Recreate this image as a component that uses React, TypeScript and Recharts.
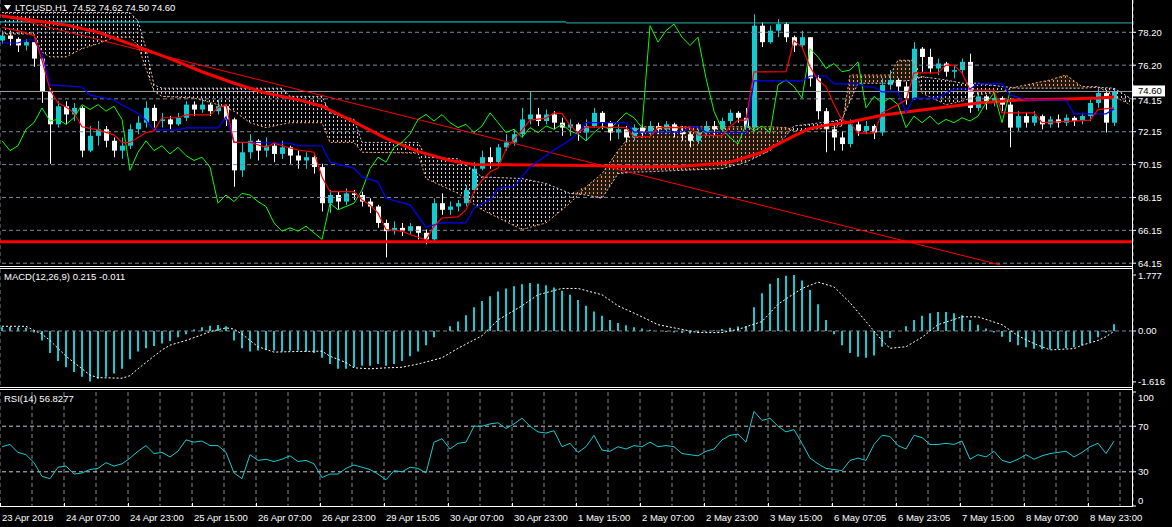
import React from "react";
import {
  ComposedChart,
  Bar,
  Line,
  Area,
  XAxis,
  YAxis,
  CartesianGrid,
  ReferenceLine,
} from "recharts";

// LTCUSD H1, each row here is a two-hour slot (two MT4 bars)
const firstOpen = 77.7;
const closes = [
  78.0, 77.8, 77.4, 77.6, 76.6, 74.6, 72.6, 73.7, 73.2, 73.6,
  71.0, 71.9, 72.3, 71.6, 71.0, 71.3, 72.3, 72.7, 73.6, 72.8,
  72.9, 72.6, 73.0, 73.8, 73.5, 73.8, 73.4, 73.7, 72.9, 69.8,
  70.9, 71.6, 71.0, 71.3, 70.8, 71.2, 70.7, 70.4, 70.6, 70.0,
  67.8, 68.3, 67.9, 68.4, 68.3, 67.9, 67.6, 66.6, 66.1, 66.3,
  66.1, 66.4, 66.0, 65.6, 67.8, 67.4, 67.6, 67.8, 68.6, 69.9,
  70.6, 70.3, 71.2, 71.5, 72.0, 72.9, 73.2, 72.8, 73.2, 72.7,
  72.4, 72.6, 72.1, 72.5, 73.3, 72.7, 72.1, 72.3, 71.8, 72.4,
  72.1, 72.5, 72.3, 72.6, 72.2, 72.0, 71.6, 72.1, 72.5, 72.3,
  72.8, 73.3, 73.0, 72.4, 78.6, 77.6, 78.3, 78.7, 77.9, 77.4,
  77.9, 75.4, 73.4, 72.3, 71.8, 71.4, 72.6, 72.2, 72.5, 72.1,
  75.0, 75.3, 74.9, 74.2, 77.2, 76.7, 76.0, 76.3, 75.8, 75.9,
  76.4, 73.6, 74.3, 73.9, 74.2, 73.8, 72.4, 73.1, 72.7, 73.1,
  72.6, 72.9, 72.7, 73.0, 72.8, 73.1, 73.9, 74.5, 72.7, 74.6,
];
const highs = [
  78.3, 78.3, 77.9, 77.8, 77.6, 76.6, 74.8, 74.0, 74.0, 73.9,
  73.7, 72.5, 72.8, 72.5, 71.8, 71.8, 72.6, 73.1, 74.0, 73.8,
  73.3, 73.1, 73.3, 74.0, 74.0, 74.2, 73.9, 74.1, 73.8, 73.0,
  71.5, 72.0, 71.7, 71.8, 71.5, 71.6, 71.3, 71.0, 70.9, 70.7,
  70.2, 68.6, 68.5, 68.7, 68.6, 68.5, 68.1, 67.7, 66.8, 66.7,
  66.6, 66.6, 66.4, 66.2, 68.1, 68.4, 67.9, 68.0, 68.9, 70.3,
  71.0, 71.2, 71.4, 72.0, 72.3, 73.6, 74.6, 73.6, 73.5, 73.4,
  73.0, 72.9, 72.7, 72.9, 73.6, 73.4, 72.8, 72.6, 72.5, 72.6,
  72.6, 72.8, 72.7, 72.8, 72.7, 72.5, 72.2, 72.3, 72.8, 72.8,
  73.0, 73.5, 73.4, 73.6, 79.3, 78.8, 78.6, 79.0, 78.8, 78.0,
  78.3, 77.9, 75.6, 73.6, 72.6, 72.2, 72.9, 72.8, 72.8, 72.6,
  75.4, 75.9, 75.4, 75.2, 77.6, 77.3, 77.2, 76.6, 76.4, 76.2,
  76.6, 76.9, 74.6, 74.4, 74.5, 74.3, 74.2, 73.4, 73.3, 73.4,
  73.2, 73.1, 73.2, 73.2, 73.1, 73.3, 74.2, 74.8, 74.7, 74.8,
];
const lows = [
  77.5, 77.4, 77.0, 77.1, 76.1, 73.9, 70.2, 72.4, 72.6, 72.8,
  70.6, 70.9, 71.3, 71.2, 70.6, 70.5, 71.1, 72.0, 72.4, 72.4,
  72.4, 72.3, 72.5, 72.8, 73.1, 73.3, 73.1, 73.2, 72.5, 68.8,
  69.4, 70.5, 70.4, 70.6, 70.3, 70.5, 70.2, 69.9, 69.9, 69.6,
  67.3, 67.2, 67.4, 67.7, 68.0, 67.6, 67.2, 66.3, 64.5, 65.9,
  65.8, 65.9, 65.6, 65.3, 65.5, 67.1, 67.1, 67.3, 67.6, 68.4,
  69.8, 69.9, 70.1, 71.0, 71.3, 71.8, 72.6, 72.5, 72.6, 72.3,
  71.9, 71.9, 71.6, 71.6, 72.4, 72.3, 71.6, 71.7, 71.5, 71.6,
  71.8, 71.9, 72.0, 72.0, 71.8, 71.6, 71.2, 71.4, 71.9, 71.9,
  72.1, 72.6, 72.7, 72.2, 72.3, 77.3, 77.5, 77.9, 77.6, 77.0,
  77.2, 74.9, 72.9, 70.9, 71.0, 71.0, 71.2, 71.9, 72.0, 71.7,
  71.9, 74.7, 74.5, 73.8, 74.1, 75.8, 75.7, 75.6, 75.5, 75.4,
  75.6, 73.3, 73.4, 73.5, 73.7, 73.4, 71.2, 72.2, 72.4, 72.5,
  72.3, 72.4, 72.4, 72.5, 72.5, 72.6, 72.8, 73.6, 72.1, 72.5,
];

// slow moving average (thick red), [slot, value]
const maPts: [number, number][] = [
  [0, 79.19], [8, 78.65], [12, 78.2], [16, 77.5], [21, 76.6], [25, 75.8],
  [29, 75.1], [33, 74.5], [37, 74.1], [40, 73.7], [44, 72.75], [48, 71.75],
  [52, 70.95], [56, 70.4], [59, 70.15], [73, 70.1], [80, 70.0], [85, 70.05],
  [89, 70.2], [91, 70.3], [93, 70.6], [95, 70.9], [97, 71.4], [99, 71.9],
  [101, 72.35], [103, 72.55], [106, 72.74], [110, 73.15], [113, 73.35],
  [118, 73.65], [122, 73.9], [127, 74.08], [133, 74.14], [137, 74.2], [139, 74.26],
];

// Ichimoku tenkan-sen (red) and kijun-sen (blue)
const tenkanPts: [number, number][] = [
  [0, 78.5], [2, 78.3], [4, 78.0], [5, 76.5], [6, 74.7], [7, 73.9], [8, 73.65],
  [9, 73.3], [10, 72.45], [12, 72.26], [14, 71.96], [15, 71.5], [16, 71.5],
  [18, 72.1], [19, 72.2], [20, 73.0], [22, 73.0], [23, 73.17], [26, 73.17],
  [27, 73.6], [28, 73.8], [29, 71.5], [31, 71.5], [33, 71.2], [34, 71.45],
  [36, 71.16], [37, 71.04], [39, 70.9], [40, 69.4], [41, 68.5], [44, 68.5],
  [45, 68.0], [46, 67.7], [47, 67.2], [48, 66.2], [50, 66.1], [51, 65.9],
  [53, 65.57], [54, 66.4], [55, 66.9], [57, 66.97], [58, 67.39], [59, 68.5],
  [60, 69.2], [61, 69.7], [62, 69.94], [63, 71.1], [65, 72.25], [66, 72.86],
  [68, 72.98], [69, 73.3], [70, 73.25], [71, 72.56], [72, 72.06], [73, 72.45],
  [78, 72.4], [79, 71.85], [81, 71.85], [82, 72.4], [86, 72.4], [87, 71.95],
  [90, 71.9], [91, 72.45], [92, 72.86], [93, 72.86], [94, 75.79], [98, 75.8],
  [99, 77.7], [100, 77.3], [101, 76.1], [102, 75.3], [103, 74.9], [104, 73.8],
  [105, 72.86], [106, 72.7], [107, 72.06], [109, 72.06], [110, 73.3], [112, 73.8],
  [113, 74.08], [114, 75.73], [117, 75.73], [118, 76.2], [119, 76.2], [120, 75.73],
  [121, 74.69], [124, 74.69], [125, 73.3], [129, 73.3], [130, 72.7], [136, 72.86],
  [137, 73.5], [139, 73.6],
];
const kijunPts: [number, number][] = [
  [0, 77.55], [2, 77.55], [3, 77.73], [4, 77.73], [5, 76.9], [6, 75.0], [10, 74.87],
  [11, 74.38], [14, 74.08], [15, 73.77], [17, 73.28], [18, 72.86], [19, 72.26],
  [22, 72.26], [23, 72.38], [27, 72.38], [28, 73.05], [29, 71.52], [36, 71.45],
  [37, 71.3], [40, 71.28], [41, 70.3], [44, 69.94], [45, 69.4], [47, 69.1],
  [48, 68.1], [51, 67.7], [53, 66.35], [55, 66.6], [58, 66.6], [59, 67.5],
  [61, 68.0], [62, 68.7], [64, 68.8], [65, 69.4], [66, 70.0], [69, 71.04],
  [71, 71.65], [72, 72.06], [73, 72.7], [78, 72.7], [79, 72.13], [85, 72.13],
  [86, 72.45], [87, 72.45], [88, 72.13], [93, 72.1], [94, 75.24], [100, 75.24],
  [101, 75.54], [103, 75.54], [104, 75.06], [107, 75.06], [108, 74.87], [109, 74.87],
  [110, 74.57], [112, 74.57], [113, 73.3], [114, 74.2], [117, 74.2], [118, 74.5],
  [119, 74.75], [121, 74.75], [122, 75.06], [125, 75.06], [126, 74.38], [127, 74.26],
  [128, 74.08], [133, 74.08], [134, 73.24], [138, 73.24], [139, 73.54],
];

// senkou span A (sandy brown) and span B (thistle), cloud runs 2 slots past the last bar
const spanAPts: [number, number][] = [
  [0, 78.1], [4, 78.1], [5, 77.0], [6, 76.7], [8, 76.7], [10, 77.2], [12, 77.5],
  [14, 77.9], [16, 77.9], [17, 77.4], [18, 76.0], [19, 74.6], [20, 74.3], [24, 74.2],
  [27, 73.8], [29, 73.4], [31, 72.7], [33, 72.4], [35, 72.6], [36, 72.7], [40, 72.7],
  [41, 71.5], [44, 71.5], [45, 70.9], [52, 70.85], [53, 69.3], [57, 68.4], [60, 67.4],
  [65, 66.2], [68, 66.6], [71, 67.8], [73, 68.8], [75, 69.6], [77, 71.0], [79, 72.2],
  [80, 72.45], [90, 72.45], [93, 72.45], [96, 72.45], [98, 72.4], [99, 72.2],
  [104, 72.4], [105, 72.5], [106, 75.6], [107, 75.6], [111, 75.6], [112, 76.5],
  [114, 76.5], [115, 74.5], [118, 73.8], [120, 74.0], [122, 74.4], [125, 74.6],
  [127, 74.9], [131, 75.3], [133, 75.6], [135, 74.9], [137, 74.9], [139, 74.3], [141, 73.8],
];
const spanBPts: [number, number][] = [
  [0, 79.4], [4, 79.4], [5, 79.4], [6, 79.4], [8, 79.4], [10, 79.4], [12, 79.4],
  [14, 79.4], [16, 79.4], [17, 78.9], [18, 77.2], [19, 75.0], [20, 74.8], [24, 74.8],
  [27, 74.8], [29, 74.8], [31, 74.8], [33, 74.8], [35, 74.8], [36, 74.3], [40, 74.3],
  [41, 73.3], [44, 72.9], [45, 71.5], [52, 71.5], [53, 70.6], [57, 70.5], [60, 69.4],
  [65, 69.3], [68, 69.0], [71, 68.4], [73, 68.3], [75, 68.1], [77, 69.6], [79, 69.7],
  [80, 69.7], [90, 69.9], [93, 70.3], [96, 71.0], [98, 71.9], [99, 72.5],
  [104, 72.8], [105, 72.9], [106, 74.0], [107, 75.1], [111, 75.1], [112, 75.2],
  [114, 75.3], [115, 75.5], [118, 75.3], [120, 75.1], [122, 75.1], [125, 74.9],
  [127, 74.8], [131, 74.8], [133, 74.8], [135, 74.8], [137, 74.85], [139, 74.8], [141, 74.2],
];

// MACD(12,26,9): histogram per slot, signal as [slot, value]
const macdHist = [
  0.12, 0.13, 0.12, 0.10, -0.05, -0.30, -0.70, -0.95, -1.15, -1.30,
  -1.45, -1.60, -1.52, -1.45, -1.35, -1.20, -0.90, -0.65, -0.55, -0.48,
  -0.40, -0.32, -0.20, -0.10, 0.05, 0.12, 0.17, 0.19, 0.15, -0.30,
  -0.55, -0.65, -0.62, -0.60, -0.62, -0.65, -0.63, -0.62, -0.65, -0.70,
  -0.85, -1.05, -1.20, -1.20, -1.15, -1.10, -1.10, -1.05, -1.10, -1.05,
  -0.95, -0.80, -0.65, -0.45, -0.20, 0.00, 0.15, 0.30, 0.50, 0.75,
  0.95, 1.10, 1.25, 1.35, 1.42, 1.48, 1.52, 1.50, 1.45, 1.38,
  1.28, 1.15, 0.98, 0.80, 0.62, 0.48, 0.35, 0.25, 0.18, 0.12,
  0.08, 0.04, 0.00, -0.03, -0.05, -0.06, -0.08, -0.06, -0.02, 0.02,
  0.06, 0.10, 0.14, 0.15, 0.75, 1.20, 1.50, 1.68, 1.75, 1.777,
  1.60, 1.30, 0.85, 0.35, -0.10, -0.45, -0.70, -0.82, -0.85, -0.78,
  -0.50, -0.22, 0.00, 0.15, 0.35, 0.48, 0.56, 0.60, 0.60, 0.56,
  0.50, 0.35, 0.20, 0.08, -0.05, -0.18, -0.35, -0.45, -0.52, -0.56,
  -0.58, -0.58, -0.56, -0.55, -0.52, -0.45, -0.35, -0.20, -0.05, 0.215,
];
const signalPts: [number, number][] = [
  [0, 0.15], [3, 0.15], [4, 0.02], [5, -0.1], [6, -0.3], [7, -0.55], [8, -0.8],
  [10, -1.2], [11, -1.4], [12, -1.48], [15, -1.5], [16, -1.42], [17, -1.2], [18, -1.0],
  [20, -0.6], [21, -0.45], [23, -0.3], [25, -0.12], [26, -0.02], [28, 0.1], [29, 0.06],
  [30, -0.1], [31, -0.3], [32, -0.5], [34, -0.67], [37, -0.65], [40, -0.64], [41, -0.8],
  [43, -1.0], [44, -1.17], [46, -1.2], [48, -1.17], [50, -1.15], [52, -1.05], [55, -0.85],
  [57, -0.55], [60, -0.15], [62, 0.35], [65, 0.8], [67, 1.15], [70, 1.35], [72, 1.35],
  [75, 1.15], [77, 0.8], [80, 0.45], [82, 0.2], [85, 0.05], [87, -0.05], [90, -0.05],
  [92, 0.05], [95, 0.3], [97, 0.85], [100, 1.35], [102, 1.55], [104, 1.4], [105, 1.15],
  [106, 0.9], [108, 0.3], [110, -0.3], [111, -0.55], [113, -0.5], [115, -0.2], [117, 0.2],
  [120, 0.45], [122, 0.45], [125, 0.2], [127, -0.15], [129, -0.4], [131, -0.6],
  [134, -0.56], [135, -0.45], [137, -0.3], [138, -0.18], [139, -0.011],
];

// RSI(14)
const rsi = [
  52, 54, 47, 45, 38, 26, 24, 34, 35, 28,
  29, 32, 33, 38, 35, 37, 42, 48, 53, 46,
  47, 43, 48, 58, 56, 57, 53, 53, 47, 29,
  24, 45, 40, 41, 39, 41, 44, 39, 40, 37,
  25, 28, 28, 33, 36, 34, 32, 28, 23, 31,
  30, 34, 33, 29, 56, 59, 50, 55, 56, 70,
  70, 72, 73, 68, 72, 77, 70, 65, 64, 66,
  52, 55, 47, 52, 62, 49, 48, 52, 50, 53,
  52, 56, 52, 53, 52, 46, 45, 44, 48, 50,
  58, 62, 63, 56, 83, 75, 77, 70, 65, 67,
  55, 42, 37, 33, 32, 31, 40, 42, 40, 54,
  62, 61, 53, 50, 62, 60, 54, 54, 55, 54,
  57, 41, 45, 43, 48, 40, 38, 41, 45, 41,
  44, 46, 47, 48, 43, 47, 52, 55, 46, 56.83,
];

const priceTicks = [78.2, 76.2, 74.15, 72.15, 70.15, 68.15, 66.15, 64.15];
const priceNow = 74.6;
const resistLevel = 78.8;
const supportLevel = 65.46;
const trendStart = 79.25;
const trendEnd = 64.05;
const macdTicks = [1.777, 0, -1.616];
const rsiTicks = [100, 70, 30, 0];
const rsiLevels = [70, 30];
const timeLabels = [
  "23 Apr 2019", "24 Apr 07:00", "24 Apr 23:00", "25 Apr 15:00", "26 Apr 07:00",
  "26 Apr 23:00", "29 Apr 15:05", "30 Apr 07:00", "30 Apr 23:00", "1 May 15:00",
  "2 May 07:00", "2 May 23:00", "3 May 15:00", "6 May 07:05", "6 May 23:05",
  "7 May 15:00", "8 May 07:00", "8 May 23:00",
];

const SLOTS = 142;
const X0 = -0.25;
const X1 = 141.375;
const CHIKOU_SHIFT = 13;
const gridTicks = Array.from({ length: 36 }, (_, k) => 4 * k + X0);

const FONT = "'Liberation Sans', Arial, sans-serif";
const FS = 9.5;
const BULL = "#12ccd4";
const BEAR = "#ffffff";
const GRID = "#7b8797";
const SANDY = "#f4a460";
const THISTLE = "#dcc6dc";

const toMap = (pts: [number, number][]) => new Map(pts.map(([j, v]) => [j, v]));
const maMap = toMap(maPts);
const tenkanMap = toMap(tenkanPts);
const kijunMap = toMap(kijunPts);
const spanAMap = toMap(spanAPts);
const spanBMap = toMap(spanBPts);
const signalMap = toMap(signalPts);

const rows = Array.from({ length: SLOTS }, (_, j) => {
  const has = j < closes.length;
  const open = j === 0 ? firstOpen : closes[j - 1];
  const a = spanAMap.get(j);
  const b = spanBMap.get(j);
  const both = a != null && b != null;
  return {
    j,
    open: has ? open : null,
    close: has ? closes[j] : null,
    high: has ? highs[j] : null,
    low: has ? lows[j] : null,
    range: has ? [lows[j], highs[j]] : null,
    ma: maMap.get(j) ?? null,
    tenkan: tenkanMap.get(j) ?? null,
    kijun: kijunMap.get(j) ?? null,
    // chikou span = close drawn 26 hours back
    chikou: j + CHIKOU_SHIFT < closes.length ? closes[j + CHIKOU_SHIFT] : null,
    spanA: a ?? null,
    spanB: b ?? null,
    // hatch colour follows whichever span is on top
    cloudThistle: both ? [a, Math.max(a, b)] : null,
    cloudSandy: both ? [b, Math.max(a, b)] : null,
    hist: has ? macdHist[j] : null,
    signal: signalMap.get(j) ?? null,
    rsi: has ? rsi[j] : null,
  };
});

const Candle = (props: any) => {
  const { x, y, width, height, payload } = props;
  if (payload.open == null || height == null) return null;
  const top = Math.min(y, y + height);
  const h = Math.abs(height);
  const span = payload.high - payload.low || 1;
  const px = (v: number) => top + ((payload.high - v) / span) * h;
  const up = payload.close >= payload.open;
  const color = up ? BULL : BEAR;
  const cx = Math.round(x + width / 2) + 0.5;
  const yo = px(payload.open);
  const yc = px(payload.close);
  const bt = Math.min(yo, yc);
  const bh = Math.max(1, Math.abs(yc - yo));
  return (
    <g>
      <line x1={cx} x2={cx} y1={top} y2={top + h} stroke={color} strokeWidth={1} />
      <rect x={cx - 2.5} y={bt} width={5} height={bh} fill={color} />
    </g>
  );
};

const PriceTick = (props: any) => {
  const { x, y, payload } = props;
  const v = payload.value;
  if (v === priceNow) {
    return (
      <g>
        <rect x={x - 5} y={y - 6} width={32} height={11} fill="#fff" />
        <text x={x} y={y} dy={2.5} fill="#000" fontSize={FS} fontFamily={FONT}>
          {v.toFixed(2)}
        </text>
      </g>
    );
  }
  const nudge = v === 74.15 ? 2 : 0;
  return (
    <text x={x} y={y + nudge} dy={3.5} fill="#fff" fontSize={FS} fontFamily={FONT}>
      {v.toFixed(2)}
    </text>
  );
};

const MacdTick = (props: any) => {
  const { x, y, payload } = props;
  const v = payload.value;
  const label = v === 0 ? "0.00" : v.toFixed(3);
  return (
    <text x={x} y={y} dy={3.5} fill="#fff" fontSize={FS} fontFamily={FONT}>
      {label}
    </text>
  );
};

const RsiTick = (props: any) => {
  const { x, y, payload } = props;
  const v = payload.value;
  const shift = v === 100 ? 5 : v === 0 ? -6 : 0;
  return (
    <text x={x} y={y + shift} dy={3.5} fill="#fff" fontSize={FS} fontFamily={FONT}>
      {v}
    </text>
  );
};

const TimeTick = (props: any) => {
  const { x, y, payload } = props;
  const k = Math.round((payload.value - X0) / 4);
  if (k % 2 !== 0) return null;
  const label = timeLabels[k / 2];
  if (!label) return null;
  const tx = Math.round(x) + 0.5;
  return (
    <g>
      <line x1={tx} x2={tx} y1={y - 3} y2={y} stroke="#fff" />
      <text x={x + 2} y={y + 15} fill="#fff" fontSize={FS} fontFamily={FONT}>
        {label}
      </text>
    </g>
  );
};

const hiddenX = (
  <XAxis
    type="number"
    dataKey="j"
    domain={[X0, X1]}
    ticks={gridTicks}
    interval={0}
    height={0}
    tick={false}
    tickLine={false}
    axisLine={false}
  />
);

const grid = (
  <CartesianGrid horizontal={false} stroke={GRID} strokeDasharray="4 3" />
);

const lineProps = {
  dot: false,
  activeDot: false,
  isAnimationActive: false,
} as const;

const hLine = (style: React.CSSProperties) => (
  <div style={{ position: "absolute", background: "#fff", ...style }} />
);

const labelStyle: React.CSSProperties = {
  position: "absolute",
  color: "#fff",
  fontFamily: FONT,
  fontSize: FS,
  lineHeight: "12px",
  whiteSpace: "pre",
};

export default function App() {
  return (
    <div
      style={{
        position: "absolute",
        left: 0,
        top: 0,
        width: 1172,
        height: 527,
        background: "#000",
        overflow: "hidden",
      }}
    >
      {/* cloud hatch patterns, shared by id */}
      <svg width={0} height={0} style={{ position: "absolute" }}>
        <defs>
          <pattern id="ltcHatchThistle" width="4" height="4" patternUnits="userSpaceOnUse">
            <rect x="1" y="0" width="1" height="2" fill={THISTLE} />
          </pattern>
          <pattern id="ltcHatchSandy" width="4" height="4" patternUnits="userSpaceOnUse">
            <rect x="0" y="0" width="4" height="4" fill={SANDY} fillOpacity={0.14} />
            <rect x="1" y="0" width="1" height="2" fill={SANDY} />
          </pattern>
        </defs>
      </svg>

      {/* price panel */}
      <div style={{ position: "absolute", left: 0, top: 0 }}>
        <ComposedChart
          width={1172}
          height={269}
          data={rows}
          margin={{ top: 0, right: 0, bottom: 3, left: 0 }}
        >
          {grid}
          {hiddenX}
          <YAxis
            orientation="right"
            width={39}
            domain={[63.98, 80.165]}
            allowDataOverflow
            ticks={[...priceTicks, priceNow]}
            interval={0}
            axisLine={false}
            tickLine={{ stroke: "#fff" }}
            tickSize={3}
            tickMargin={2}
            tick={<PriceTick />}
          />
          {priceTicks.map((p) => (
            <ReferenceLine key={p} y={p} stroke={GRID} strokeDasharray="4 3" />
          ))}
          <Area
            dataKey="cloudThistle"
            stroke="none"
            fill="url(#ltcHatchThistle)"
            fillOpacity={1}
            connectNulls
            {...lineProps}
          />
          <Area
            dataKey="cloudSandy"
            stroke="none"
            fill="url(#ltcHatchSandy)"
            fillOpacity={1}
            connectNulls
            {...lineProps}
          />
          <Line dataKey="spanA" stroke={SANDY} strokeDasharray="2 2" connectNulls {...lineProps} />
          <Line dataKey="spanB" stroke={THISTLE} strokeDasharray="2 2" connectNulls {...lineProps} />
          <ReferenceLine
            segment={[{ x: X0, y: resistLevel + 0.03 }, { x: 70.5, y: resistLevel + 0.03 }]}
            stroke="#00e0e0"
          />
          <ReferenceLine
            segment={[{ x: 70.5, y: resistLevel - 0.03 }, { x: X1, y: resistLevel - 0.03 }]}
            stroke="#2ab4b4"
          />
          <ReferenceLine y={priceNow} stroke="#9ea3a8" />
          <ReferenceLine y={supportLevel} stroke="#ff0000" strokeWidth={3} />
          <ReferenceLine
            segment={[{ x: X0, y: trendStart }, { x: 124.75, y: trendEnd }]}
            stroke="#ff0000"
          />
          <Line dataKey="ma" stroke="#ff0000" strokeWidth={3} connectNulls {...lineProps} />
          <Line dataKey="chikou" stroke="#00ff00" strokeWidth={1} {...lineProps} />
          <Line dataKey="kijun" stroke="#0000ff" strokeWidth={1.2} connectNulls {...lineProps} />
          <Line dataKey="tenkan" stroke="#ff0000" strokeWidth={1.2} connectNulls {...lineProps} />
          <Bar dataKey="range" barSize={5} shape={<Candle />} activeBar={false} isAnimationActive={false} />
        </ComposedChart>
      </div>

      {/* MACD panel */}
      <div style={{ position: "absolute", left: 0, top: 269 }}>
        <ComposedChart
          width={1172}
          height={118}
          data={rows}
          margin={{ top: 0, right: 0, bottom: 0, left: 0 }}
        >
          {grid}
          {hiddenX}
          <YAxis
            orientation="right"
            width={39}
            domain={[-1.778, 1.968]}
            allowDataOverflow
            ticks={macdTicks}
            interval={0}
            axisLine={false}
            tickLine={{ stroke: "#fff" }}
            tickSize={3}
            tickMargin={2}
            tick={<MacdTick />}
          />
          <ReferenceLine y={0} stroke={GRID} strokeDasharray="4 3" />
          <Bar dataKey="hist" fill={BULL} barSize={2} activeBar={false} isAnimationActive={false} />
          <Line dataKey="signal" stroke="#fff" strokeDasharray="2 2" connectNulls {...lineProps} />
        </ComposedChart>
      </div>

      {/* RSI panel */}
      <div style={{ position: "absolute", left: 0, top: 390 }}>
        <ComposedChart
          width={1172}
          height={137}
          data={rows}
          margin={{ top: 2, right: 0, bottom: 0, left: 0 }}
        >
          {grid}
          <XAxis
            type="number"
            dataKey="j"
            domain={[X0, X1]}
            ticks={gridTicks}
            interval={0}
            height={21}
            axisLine={false}
            tickLine={false}
            tickSize={0}
            tickMargin={0}
            tick={<TimeTick />}
          />
          <YAxis
            orientation="right"
            width={39}
            domain={[0, 100]}
            ticks={rsiTicks}
            interval={0}
            axisLine={false}
            tickLine={{ stroke: "#fff" }}
            tickSize={3}
            tickMargin={2}
            tick={<RsiTick />}
          />
          {rsiLevels.map((v) => (
            <ReferenceLine key={v} y={v} stroke="#c4c8ce" strokeDasharray="4 3" />
          ))}
          <Line dataKey="rsi" stroke={BULL} strokeWidth={1} {...lineProps} />
        </ComposedChart>
      </div>

      {/* frame */}
      {hLine({ left: 0, top: 266, width: 1133, height: 1 })}
      {hLine({ left: 0, top: 268, width: 1133, height: 1 })}
      {hLine({ left: 0, top: 387, width: 1133, height: 1 })}
      {hLine({ left: 0, top: 389, width: 1133, height: 1 })}
      {hLine({ left: 0, top: 506, width: 1133, height: 1 })}
      {hLine({ left: 1132, top: 0, width: 1, height: 507 })}

      <div style={{ ...labelStyle, left: 4, top: 2 }}>
        <svg width={8} height={6} style={{ position: "absolute", left: 0, top: 3 }}>
          <polygon points="0,0 7,0 3.5,5" fill="#fff" />
        </svg>
        <span style={{ position: "absolute", left: 11, top: 0 }}>
          {"LTCUSD,H1  74.52 74.62 74.50 74.60"}
        </span>
      </div>
      <div style={{ ...labelStyle, left: 4, top: 271 }}>{"MACD(12,26,9) 0.215 -0.011"}</div>
      <div style={{ ...labelStyle, left: 4, top: 393 }}>{"RSI(14) 56.8277"}</div>
    </div>
  );
}
